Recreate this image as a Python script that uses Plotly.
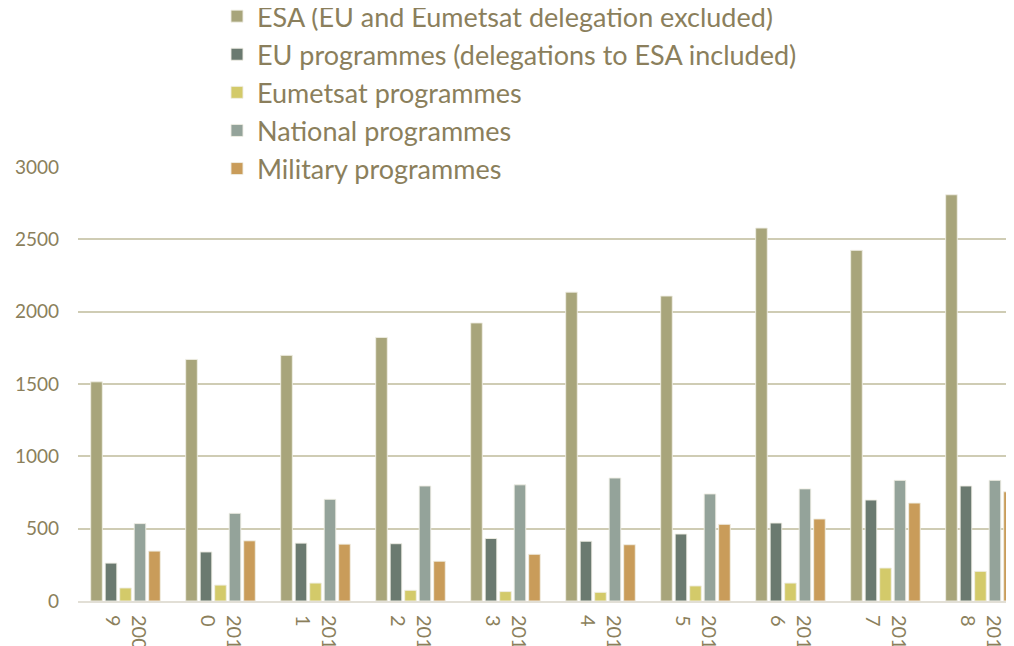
import plotly.graph_objects as go

years = ["2009", "2010", "2011", "2012", "2013", "2014", "2015", "2016", "2017", "2018"]
tick_text = ["200<br>9", "201<br>0", "201<br>1", "201<br>2", "201<br>3",
             "201<br>4", "201<br>5", "201<br>6", "201<br>7", "201<br>8"]

esa = [1515, 1670, 1698, 1822, 1922, 2135, 2108, 2578, 2424, 2808]
eu = [262, 339, 400, 396, 432, 413, 463, 539, 698, 795]
eumetsat = [90, 110, 124, 74, 65, 60, 104, 124, 228, 205]
national = [535, 606, 703, 795, 803, 850, 740, 775, 834, 834]
military = [345, 416, 393, 275, 323, 389, 530, 567, 677, 755]

series_names = [
    "ESA (EU and Eumetsat delegation excluded)",
    "EU programmes (delegations to ESA included)",
    "Eumetsat programmes",
    "National programmes",
    "Military programmes",
]
series_values = [esa, eu, eumetsat, national, military]
colors = ["#a8a57b", "#6b7a70", "#d3ca6a", "#94a39a", "#c99c5a"]

text_color = "#8b7f5c"

fig = go.Figure()
for i, (name, vals, col) in enumerate(zip(series_names, series_values, colors)):
    fig.add_trace(go.Bar(
        x=years, y=vals, name=name,
        marker=dict(color=col, line=dict(color="rgba(240,238,228,0.9)", width=1)),
    ))

fig.update_layout(
    width=1006, height=638,
    margin=dict(l=70, r=0, t=159, b=45, autoexpand=False),
    paper_bgcolor="white", plot_bgcolor="white",
    barmode="group", bargap=0.237, bargroupgap=0.2,
    font=dict(family="Lato, Open Sans, sans-serif", color=text_color),
    showlegend=True,
    legend=dict(
        x=0.1485, y=1.403, xanchor="left", yanchor="top",
        font=dict(size=27, color=text_color),
        bgcolor="rgba(0,0,0,0)", borderwidth=0,
        tracegroupgap=0,
    ),
)
fig.update_xaxes(
    type="category",
    tickmode="array", tickvals=years, ticktext=tick_text,
    tickangle=90, tickfont=dict(size=20, color=text_color),
    range=[-0.5, 9.353], automargin=False,
    showgrid=False, showline=True, linecolor="#e2dfd6", linewidth=2,
    ticks="", ticklabelstandoff=8,
)
fig.update_yaxes(
    range=[0, 3000], tickvals=[0, 500, 1000, 1500, 2000, 2500, 3000],
    tickfont=dict(size=19, color=text_color),
    showgrid=True, gridcolor="#cfccb4", gridwidth=2,
    zeroline=False, showline=False, ticks="",
    ticklabelstandoff=18, automargin=False,
)

fig.write_html("out.html")
